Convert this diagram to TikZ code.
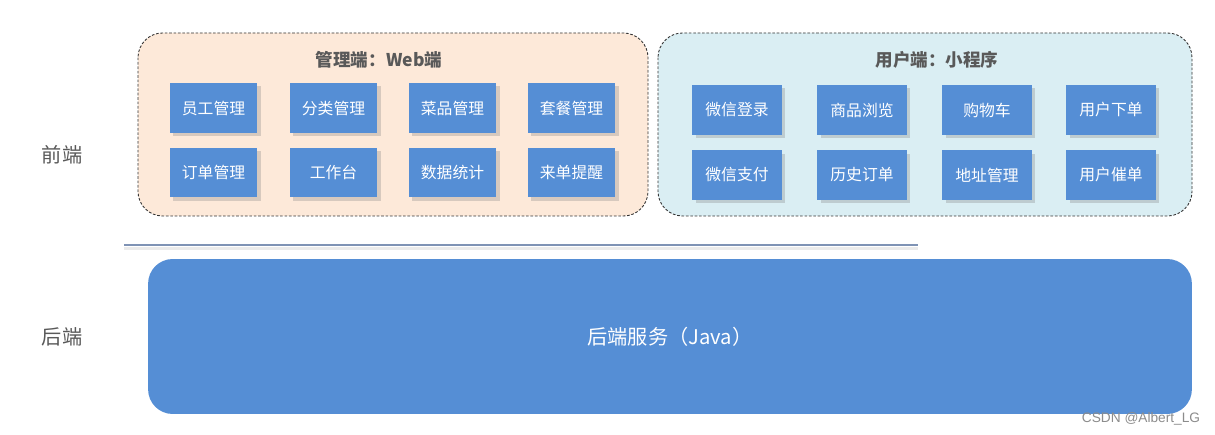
\documentclass[tikz,border=0pt]{standalone}
\usepackage{fontspec}
\setmainfont{Noto Sans CJK SC}
\newfontfamily\markfont{Liberation Sans}
\usepackage{tikz}
\usetikzlibrary{positioning, shadows}
\definecolor{BoxBlue}{HTML}{558ED5}
\definecolor{AdminBg}{HTML}{FDE9D9}
\definecolor{UserBg}{HTML}{DAEEF3}
\definecolor{LabelGray}{HTML}{595959}
\definecolor{RuleBlue}{HTML}{7F93B5}

\begin{document}
\begin{tikzpicture}[x=0.02cm, y=-0.02cm,
  panel/.style={draw=black!80, dash pattern=on 1.5pt off 1pt, line width=0.5pt,
    rounded corners=14pt},
  func/.style={fill=BoxBlue, text=white, font=\fontsize{9}{10}\selectfont,
    minimum width=1.76cm, minimum height=1cm, inner sep=0pt,
    drop shadow={shadow xshift=0.07cm, shadow yshift=-0.07cm, opacity=0.3}},
  paneltitle/.style={text=LabelGray, font=\bfseries\fontsize{10}{12}\selectfont},
  side/.style={text=LabelGray, font=\fontsize{11.5}{13}\selectfont}]
  \useasboundingbox (0,0) rectangle (1215,435);
  \fill[white] (0,0) rectangle (1215,435);

  % front end panels
  \draw[panel, fill=AdminBg] (138,33) rectangle (648,216);
  \draw[panel, fill=UserBg] (658,33) rectangle (1192,216);
  \node[paneltitle] (admintitle) at (379,60) {管理端：Web端};
  \node[paneltitle] (usertitle) at (937,60) {用户端：小程序};

  % admin functions
  \foreach \name/\x/\y/\txt in {a1/213.5/108/员工管理, a2/333.5/108/分类管理,
      a3/452.5/108/菜品管理, a4/571.5/108/套餐管理,
      a5/213.5/172.5/订单管理, a6/333.5/172.5/工作台,
      a7/452.5/172.5/数据统计, a8/571.5/172.5/来单提醒}
    \node[func] (\name) at (\x,\y) {\txt};

  % user functions
  \foreach \name/\x/\y/\txt in {u1/737/110/微信登录, u2/862/110/商品浏览,
      u3/987/110/购物车, u4/1111/110/用户下单,
      u5/737/175/微信支付, u6/862/175/历史订单,
      u7/987/175/地址管理, u8/1111/175/用户催单}
    \node[func, minimum width=1.8cm] (\name) at (\x,\y) {\txt};

  % divider
  \coordinate (ruleL) at (124,245);
  \coordinate (ruleR) at (918,245);
  \draw[black!8, line width=2pt] ([yshift=-2pt]ruleL) -- ([yshift=-2pt]ruleR);
  \draw[RuleBlue, line width=0.6pt] (ruleL) -- (ruleR);

  % back end
  \node[fill=BoxBlue, rounded corners=14pt, minimum width=20.88cm,
    minimum height=3.1cm, text=white, font=\fontsize{11.5}{13}\selectfont]
    (backend) at (670,336.5) {后端服务（Java）};

  \node[side] (frontlabel) at (62,155) {前端};
  \node[side] (backlabel) at (62,337) {后端};
  \node[text=black!45, font=\markfont\fontsize{7.8}{9}\selectfont]
    (mark) at (1141,419) {CSDN @Albert\_LG};
\end{tikzpicture}
\end{document}
